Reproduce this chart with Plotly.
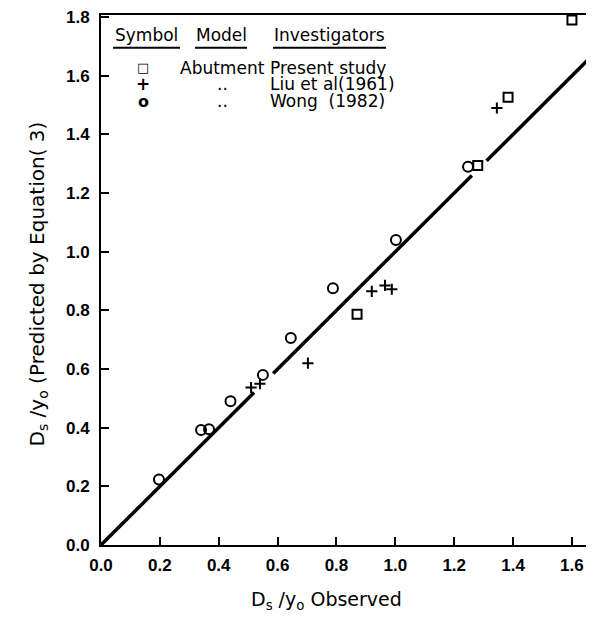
import plotly.graph_objects as go

# ---- data ----
present_x = [0.87, 1.28, 1.383, 1.60]
present_y = [0.787, 1.294, 1.527, 1.79]
liu_x = [0.51, 0.54, 0.703, 0.92, 0.965, 0.988, 1.345]
liu_y = [0.537, 0.55, 0.62, 0.865, 0.885, 0.872, 1.49]
wong_x = [0.197, 0.34, 0.367, 0.44, 0.55, 0.645, 0.788, 1.002, 1.247]
wong_y = [0.223, 0.392, 0.395, 0.49, 0.58, 0.706, 0.875, 1.04, 1.29]
# line of perfect agreement (drawn with small gaps around points, as in the original)
line_x = [0.0, 0.52, None, 0.585, 1.26, None, 1.31, 1.70]
line_y = [0.0, 0.52, None, 0.585, 1.26, None, 1.31, 1.70]

x_ticks = [0.0, 0.2, 0.4, 0.6, 0.8, 1.0, 1.2, 1.4, 1.6]
y_ticks = [0.0, 0.2, 0.4, 0.6, 0.8, 1.0, 1.2, 1.4, 1.6, 1.8]

legend_symbols = ["\u25a1", "+", "o"]
legend_models = ["Abutment", "..", ".."]
legend_investigators = ["Present study", "Liu et al(1961)", "Wong  (1982)"]

FONT = "DejaVu Sans"
TICKFONT = "Liberation Sans"
OFF = 8                      # page body margin of the browser
W, H = 594 - OFF, 619 - OFF
ML, MR, MT, MB = 101 - OFF, 0, 10 - OFF, 74


def px(x):   # screen pixel -> paper x
    return (x - OFF - ML) / (W - ML - MR)


def py(y):   # screen pixel -> paper y
    return (H - MB - (y - OFF)) / (H - MB - MT)


fig = go.Figure()
fig.add_trace(go.Scatter(x=line_x, y=line_y, mode="lines",
                         line=dict(color="black", width=3.5), showlegend=False))
fig.add_trace(go.Scatter(x=present_x, y=present_y, mode="markers", showlegend=False,
                         marker=dict(symbol="square-open", size=9, color="black",
                                     line=dict(width=2, color="black")), cliponaxis=False))
fig.add_trace(go.Scatter(x=liu_x, y=liu_y, mode="markers", showlegend=False,
                         marker=dict(symbol="cross-thin-open", size=8, color="black",
                                     line=dict(width=2, color="black")), cliponaxis=False))
fig.add_trace(go.Scatter(x=wong_x, y=wong_y, mode="markers", showlegend=False,
                         marker=dict(symbol="circle-open", size=10, color="black",
                                     line=dict(width=2, color="black")), cliponaxis=False))

annotations = []
# legend headers
for text, xc in [("Symbol", 146), ("Model", 221), ("Investigators", 329)]:
    annotations.append(dict(text=text, x=px(xc), y=py(30), xref="paper", yref="paper",
                            showarrow=False, xanchor="center", yanchor="middle",
                            font=dict(family=FONT, size=17, color="black")))
rows_y = [63, 80, 97]
sym_sizes = [13, 17, 16]
for sym, ss, mod, inv, ry in zip(legend_symbols, sym_sizes, legend_models,
                                 legend_investigators, rows_y):
    annotations.append(dict(text="<b>%s</b>" % sym, x=px(143), y=py(ry), xref="paper",
                            yref="paper", showarrow=False, xanchor="center", yanchor="middle",
                            font=dict(family=FONT, size=ss, color="black")))
    annotations.append(dict(text=mod, x=px(222), y=py(ry), xref="paper", yref="paper",
                            showarrow=False, xanchor="center", yanchor="middle",
                            font=dict(family=FONT, size=17, color="black")))
    annotations.append(dict(text=inv, x=px(268), y=py(ry), xref="paper", yref="paper",
                            showarrow=False, xanchor="left", yanchor="middle",
                            font=dict(family=FONT, size=17, color="black")))
# axis titles
annotations.append(dict(text="D<sub>s</sub> /y<sub>o</sub> Observed", x=px(326), y=py(601),
                        xref="paper", yref="paper", showarrow=False, xanchor="center",
                        yanchor="middle", font=dict(family=FONT, size=19, color="black")))
annotations.append(dict(text="D<sub>s</sub> /y<sub>o</sub> (Predicted by Equation( 3)",
                        x=px(38), y=py(282), xref="paper", yref="paper", showarrow=False,
                        xanchor="center", yanchor="middle", textangle=-90,
                        font=dict(family=FONT, size=20, color="black")))

shapes = []
for x0, x1 in [(113, 180), (195, 247), (273, 386)]:
    shapes.append(dict(type="line", xref="paper", yref="paper", x0=px(x0), x1=px(x1),
                       y0=py(43), y1=py(43), line=dict(color="black", width=2)))

tickfont = dict(family=TICKFONT, size=17, color="black", weight="bold")
fig.update_layout(
    width=W, height=H,
    margin=dict(l=ML, r=MR, t=MT, b=MB),
    paper_bgcolor="white", plot_bgcolor="white",
    font=dict(family=FONT, size=16, color="black"),
    annotations=annotations, shapes=shapes,
    xaxis=dict(range=[0, 1.675], tickvals=x_ticks, tickformat=".1f",
               showline=True, linewidth=2, linecolor="black", mirror=True,
               ticks="inside", ticklen=8, tickwidth=1.5, tickcolor="black",
               showgrid=False, zeroline=False, ticklabelstandoff=4,
               ticklabeloverflow="allow", tickfont=tickfont),
    yaxis=dict(range=[0, 1.807], tickvals=y_ticks, tickformat=".1f",
               showline=True, linewidth=2, linecolor="black",
               ticks="inside", ticklen=8, tickwidth=1.5, tickcolor="black",
               showgrid=False, zeroline=False, ticklabelstandoff=6,
               ticklabeloverflow="allow", tickfont=tickfont),
)

fig.write_html("out.html")
